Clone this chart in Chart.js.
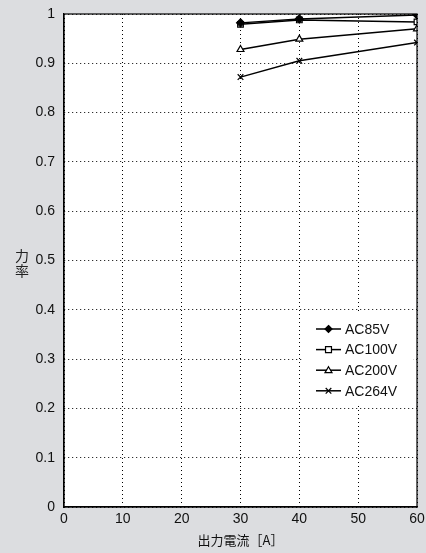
<!DOCTYPE html>
<html>
<head>
<meta charset="utf-8">
<script src="https://cdn.jsdelivr.net/npm/chart.js@4/dist/chart.umd.min.js"></script>
<style>
  html, body { margin: 0; padding: 0; background: #dcdde0; }
  #wrap { width: 426px; height: 553px; }
</style>
</head>
<body>
<div id="wrap"><canvas id="pfChart" width="426" height="553"></canvas></div>
<script>
var current = [30, 40, 60];
var ac85 = [0.982, 0.990, 0.998];
var ac100 = [0.979, 0.988, 0.984];
var ac200 = [0.928, 0.949, 0.970];
var ac264 = [0.872, 0.905, 0.942];
var seriesNames = ['AC85V', 'AC100V', 'AC200V', 'AC264V'];

var latin = '"Liberation Sans", Arial, sans-serif';
var jp = '"Noto Sans CJK JP", sans-serif';

function pts(vals) {
    return current.map(function (x, i) { return { x: x, y: vals[i] }; });
}

function series(name, vals, style, fill) {
    return {
        label: name,
        data: pts(vals),
        borderColor: '#000',
        borderWidth: 1.5,
        pointStyle: style,
        pointRadius: 4,
        pointBorderWidth: 1.2,
        pointBorderColor: '#000',
        pointBackgroundColor: fill,
        tension: 0
    };
}

// small marker for the legend
function drawMarker(c, style, x, y, r, fill) {
    c.save();
    c.fillStyle = fill;
    c.strokeStyle = '#000';
    c.lineWidth = 1.2;
    c.beginPath();
    if (style === 'rectRot') {
        c.moveTo(x, y - r); c.lineTo(x + r, y); c.lineTo(x, y + r); c.lineTo(x - r, y); c.closePath();
        c.fill(); c.stroke();
    } else if (style === 'rect') {
        c.rect(x - r * 0.85, y - r * 0.85, r * 1.7, r * 1.7);
        c.fill(); c.stroke();
    } else if (style === 'triangle') {
        c.moveTo(x, y - r); c.lineTo(x + r, y + r * 0.7); c.lineTo(x - r, y + r * 0.7); c.closePath();
        c.fill(); c.stroke();
    } else {
        c.moveTo(x - r * 0.8, y - r * 0.8); c.lineTo(x + r * 0.8, y + r * 0.8);
        c.moveTo(x + r * 0.8, y - r * 0.8); c.lineTo(x - r * 0.8, y + r * 0.8);
        c.stroke();
    }
    c.restore();
}

var frameAndLabels = {
    id: 'frameAndLabels',
    beforeDraw: function (chart) {
        var a = chart.chartArea, c = chart.ctx;
        c.save();
        c.fillStyle = '#fff';
        c.fillRect(a.left, a.top, a.right - a.left, a.bottom - a.top);
        c.restore();
    },
    afterDraw: function (chart) {
        var a = chart.chartArea, c = chart.ctx;
        c.save();
        c.strokeStyle = '#000';
        c.lineWidth = 1.2;
        c.strokeRect(a.left, a.top, a.right - a.left, a.bottom - a.top);

        // y axis title, stacked vertically
        c.fillStyle = '#222';
        c.font = '14px ' + jp;
        c.textAlign = 'center';
        c.textBaseline = 'middle';
        c.fillText('力', 22, 256);
        c.fillText('率', 22, 271);

        // legend inside the plot, on a white box that hides the grid
        c.fillStyle = '#fff';
        c.fillRect(303, 312, 110, 94);
        var lx = 316, ly = 329, gap = 20.6;
        chart.data.datasets.forEach(function (ds, i) {
            var y = ly + i * gap;
            c.strokeStyle = '#000';
            c.lineWidth = 1.5;
            c.beginPath();
            c.moveTo(lx, y);
            c.lineTo(lx + 25, y);
            c.stroke();
            drawMarker(c, ds.pointStyle, lx + 12.5, y, 3.5, ds.pointBackgroundColor);
            c.fillStyle = '#111';
            c.font = '14px ' + latin;
            c.textAlign = 'left';
            c.textBaseline = 'middle';
            c.fillText(ds.label, lx + 29, y + 1);
        });
        c.restore();
    }
};

var ctx = document.getElementById('pfChart').getContext('2d');
var myChart = new Chart(ctx, {
    type: 'line',
    data: {
        datasets: [
            series(seriesNames[0], ac85, 'rectRot', '#000'),
            series(seriesNames[1], ac100, 'rect', '#fff'),
            series(seriesNames[2], ac200, 'triangle', '#fff'),
            series(seriesNames[3], ac264, 'crossRot', '#000')
        ]
    },
    options: {
        responsive: false,
        animation: false,
        layout: { padding: { top: 14, right: 9, left: 0, bottom: 0 } },
        plugins: {
            legend: { display: false },
            tooltip: { enabled: false }
        },
        scales: {
            x: {
                type: 'linear',
                min: 0,
                max: 60,
                ticks: {
                    stepSize: 10,
                    color: '#111',
                    font: { family: latin, size: 14 },
                    padding: 4
                },
                grid: {
                    color: '#000',
                    lineWidth: 1,
                    tickLength: 0
                },
                border: { display: true, color: '#000', width: 1.2, dash: [1, 3] },
                title: {
                    display: true,
                    text: '出力電流［A］',
                    color: '#111',
                    font: { family: jp, size: 13 },
                    padding: { top: 0, bottom: 5 }
                },
                afterFit: function (s) {
                    s.height = 46;
                    s.paddingLeft = 0;
                    s.paddingRight = 0;
                }
            },
            y: {
                min: 0,
                max: 1,
                ticks: {
                    stepSize: 0.1,
                    color: '#111',
                    font: { family: latin, size: 14 },
                    padding: 9,
                    callback: function (v) { return Math.round(v * 10) / 10; }
                },
                grid: {
                    color: '#000',
                    lineWidth: 1,
                    tickLength: 0
                },
                border: { display: true, color: '#000', width: 1.2, dash: [1, 3] },
                afterFit: function (s) {
                    s.width = 64;
                    s.paddingTop = 0;
                    s.paddingBottom = 0;
                }
            }
        }
    },
    plugins: [frameAndLabels]
});
</script>
</body>
</html>
